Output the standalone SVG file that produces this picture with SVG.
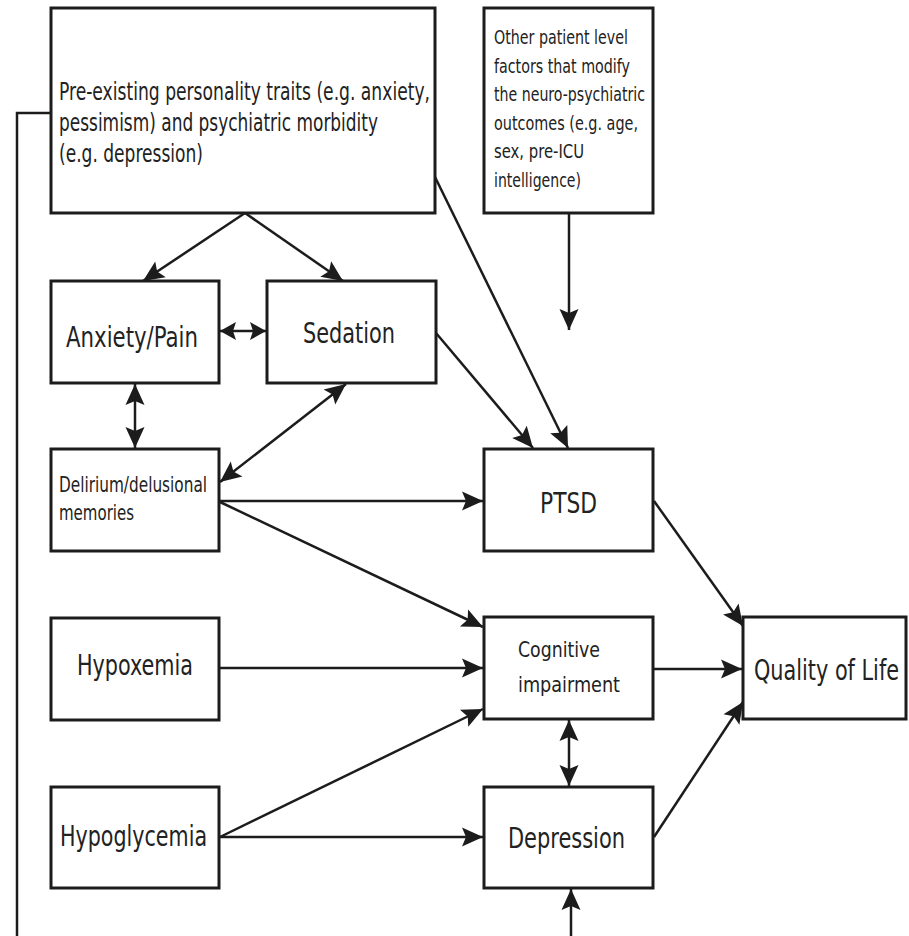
<svg xmlns="http://www.w3.org/2000/svg" width="909" height="936" viewBox="0 0 909 936">
  <style>
    .box { fill: #ffffff; stroke: #1c1c1c; stroke-width: 3; }
    .edge { fill: none; stroke: #1c1c1c; stroke-width: 2.5; }
    .lbl { font-family: "DejaVu Sans Condensed", "DejaVu Sans", "Liberation Sans", sans-serif; font-stretch: condensed; fill: #222222; }
    .big { font-size: 29px; }
    .mid { font-size: 22px; }
    .top { font-size: 24px; }
    .side { font-size: 19px; }
  </style>
  <defs>
    <marker id="arrow" viewBox="-22 -11 24 22" refX="0" refY="0" markerWidth="24" markerHeight="22" markerUnits="userSpaceOnUse" orient="auto-start-reverse">
      <path d="M 0 0 L -21 -9.5 L -17 0 L -21 9.5 Z" fill="#1c1c1c"/>
    </marker>
    <marker id="arrow-short" viewBox="-18 -11 20 22" refX="0" refY="0" markerWidth="20" markerHeight="22" markerUnits="userSpaceOnUse" orient="auto-start-reverse">
      <path d="M 0 0 L -16 -9 L -13 0 L -16 9 Z" fill="#1c1c1c"/>
    </marker>
  </defs>

  <!-- connectors -->
  <g id="connectors">
    <!-- bracket line from personality box down the left side -->
    <polyline class="edge" points="51,113 17,113 17,936"/>
    <!-- personality traits to anxiety/pain and sedation -->
    <line class="edge" x1="245" y1="213" x2="143" y2="281" marker-end="url(#arrow)"/>
    <line class="edge" x1="245" y1="213" x2="343" y2="281" marker-end="url(#arrow)"/>
    <!-- personality traits to PTSD -->
    <line class="edge" x1="435" y1="177" x2="568" y2="448" marker-end="url(#arrow)"/>
    <!-- other patient factors -->
    <line class="edge" x1="569" y1="213" x2="569" y2="330" marker-end="url(#arrow)"/>
    <!-- anxiety/pain <-> sedation -->
    <line class="edge" x1="220" y1="331" x2="266" y2="331" marker-start="url(#arrow-short)" marker-end="url(#arrow-short)"/>
    <!-- anxiety/pain <-> delirium -->
    <line class="edge" x1="135" y1="384" x2="135" y2="448" marker-start="url(#arrow)" marker-end="url(#arrow)"/>
    <!-- sedation <-> delirium -->
    <line class="edge" x1="346" y1="384" x2="220" y2="482" marker-start="url(#arrow)" marker-end="url(#arrow)"/>
    <!-- sedation to PTSD -->
    <line class="edge" x1="436" y1="333" x2="533" y2="448" marker-end="url(#arrow)"/>
    <!-- delirium to PTSD and cognitive impairment -->
    <line class="edge" x1="220" y1="501" x2="483" y2="501" marker-end="url(#arrow)"/>
    <line class="edge" x1="220" y1="502" x2="483" y2="627" marker-end="url(#arrow)"/>
    <!-- hypoxemia to cognitive impairment -->
    <line class="edge" x1="220" y1="668" x2="483" y2="668" marker-end="url(#arrow)"/>
    <!-- hypoglycemia to cognitive impairment and depression -->
    <line class="edge" x1="220" y1="837" x2="483" y2="709" marker-end="url(#arrow)"/>
    <line class="edge" x1="220" y1="837" x2="483" y2="837" marker-end="url(#arrow)"/>
    <!-- cognitive impairment <-> depression -->
    <line class="edge" x1="569" y1="720" x2="569" y2="786" marker-start="url(#arrow)" marker-end="url(#arrow)"/>
    <!-- incoming line from below to depression -->
    <line class="edge" x1="571" y1="936" x2="571" y2="889" marker-end="url(#arrow)"/>
    <!-- outcomes to quality of life -->
    <line class="edge" x1="654" y1="501" x2="743" y2="626" marker-end="url(#arrow)"/>
    <line class="edge" x1="654" y1="669" x2="742" y2="669" marker-end="url(#arrow)"/>
    <line class="edge" x1="654" y1="837" x2="743" y2="702" marker-end="url(#arrow)"/>
  </g>

  <!-- nodes (labels are drawn horizontally narrowed to 72%) -->
  <g id="personality">
    <rect class="box" x="51" y="8" width="384" height="205"/>
    <text class="lbl top" transform="translate(59,100) scale(0.72,1)" textLength="515.3" lengthAdjust="spacingAndGlyphs">Pre-existing personality traits (e.g. anxiety,</text>
    <text class="lbl top" transform="translate(59,131) scale(0.72,1)" textLength="443.1" lengthAdjust="spacingAndGlyphs">pessimism) and psychiatric morbidity</text>
    <text class="lbl top" transform="translate(59,162) scale(0.72,1)" textLength="200" lengthAdjust="spacingAndGlyphs">(e.g. depression)</text>
  </g>

  <g id="patient-factors">
    <rect class="box" x="484" y="8" width="169" height="205"/>
    <text class="lbl side" transform="translate(494,44) scale(0.72,1)" textLength="186.1" lengthAdjust="spacingAndGlyphs">Other patient level</text>
    <text class="lbl side" transform="translate(494,73) scale(0.72,1)" textLength="188.9" lengthAdjust="spacingAndGlyphs">factors that modify</text>
    <text class="lbl side" transform="translate(494,101) scale(0.72,1)" textLength="209.7" lengthAdjust="spacingAndGlyphs">the neuro-psychiatric</text>
    <text class="lbl side" transform="translate(494,130) scale(0.72,1)" textLength="200" lengthAdjust="spacingAndGlyphs">outcomes (e.g. age,</text>
    <text class="lbl side" transform="translate(494,158) scale(0.72,1)" textLength="125" lengthAdjust="spacingAndGlyphs">sex, pre-ICU</text>
    <text class="lbl side" transform="translate(494,187) scale(0.72,1)" textLength="120.8" lengthAdjust="spacingAndGlyphs">intelligence)</text>
  </g>

  <g id="anxiety-pain">
    <rect class="box" x="51" y="281" width="168" height="102"/>
    <text class="lbl big" transform="translate(66,347) scale(0.72,1)" textLength="183.3" lengthAdjust="spacingAndGlyphs">Anxiety/Pain</text>
  </g>

  <g id="sedation">
    <rect class="box" x="267" y="281" width="169" height="102"/>
    <text class="lbl big" transform="translate(303,343) scale(0.72,1)" textLength="127.8" lengthAdjust="spacingAndGlyphs">Sedation</text>
  </g>

  <g id="delirium">
    <rect class="box" x="51" y="449" width="168" height="102"/>
    <text class="lbl mid" transform="translate(59,492) scale(0.72,1)" textLength="205.6" lengthAdjust="spacingAndGlyphs">Delirium/delusional</text>
    <text class="lbl mid" transform="translate(59,520) scale(0.72,1)" textLength="104.2" lengthAdjust="spacingAndGlyphs">memories</text>
  </g>

  <g id="ptsd">
    <rect class="box" x="484" y="449" width="169" height="102"/>
    <text class="lbl big" transform="translate(540,513) scale(0.72,1)" textLength="79.2" lengthAdjust="spacingAndGlyphs">PTSD</text>
  </g>

  <g id="hypoxemia">
    <rect class="box" x="51" y="618" width="168" height="102"/>
    <text class="lbl big" transform="translate(77,675) scale(0.72,1)" textLength="161.1" lengthAdjust="spacingAndGlyphs">Hypoxemia</text>
  </g>

  <g id="cognitive-impairment">
    <rect class="box" x="484" y="617" width="169" height="102"/>
    <text class="lbl mid" transform="translate(518,657) scale(0.72,1)" textLength="113.9" lengthAdjust="spacingAndGlyphs">Cognitive</text>
    <text class="lbl mid" transform="translate(518,692) scale(0.72,1)" textLength="141.7" lengthAdjust="spacingAndGlyphs">impairment</text>
  </g>

  <g id="quality-of-life">
    <rect class="box" x="743" y="617" width="163" height="102"/>
    <text class="lbl big" transform="translate(754,680) scale(0.72,1)" textLength="201.4" lengthAdjust="spacingAndGlyphs">Quality of Life</text>
  </g>

  <g id="hypoglycemia">
    <rect class="box" x="51" y="787" width="168" height="101"/>
    <text class="lbl big" transform="translate(60,846) scale(0.72,1)" textLength="204.2" lengthAdjust="spacingAndGlyphs">Hypoglycemia</text>
  </g>

  <g id="depression">
    <rect class="box" x="484" y="787" width="169" height="101"/>
    <text class="lbl big" transform="translate(508,848) scale(0.72,1)" textLength="162.5" lengthAdjust="spacingAndGlyphs">Depression</text>
  </g>
</svg>
